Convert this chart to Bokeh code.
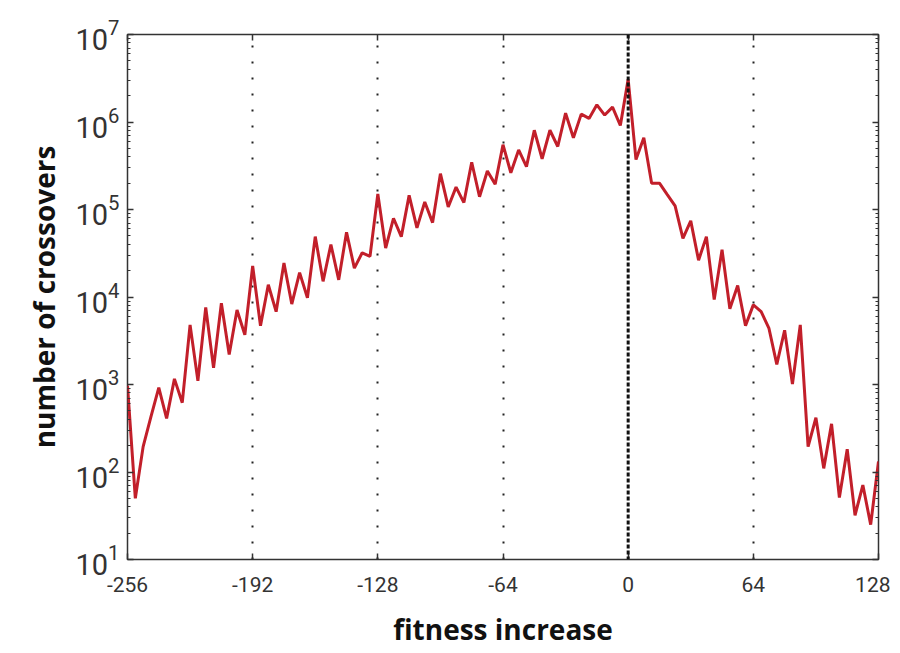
from bokeh.plotting import figure
from bokeh.models import (LogAxis, LinearAxis, FixedTicker, LogTicker, Span, Range1d,
                          CustomJSTickFormatter)
from bokeh.embed import file_html
from bokeh.resources import INLINE

# data
fitness_increase = list(range(-256, 129, 4))
crossovers = [
    970, 50, 195, 430, 920, 410, 1160, 620, 4800, 1100, 7600, 1550, 8500, 2200,
    7100, 3700, 22600, 4700, 13800, 6800, 24500, 8300, 19000, 9800, 49000, 15100,
    39800, 15700, 55000, 21400, 32000, 29200, 151000,
    36300, 79400, 49000, 145000, 61700, 122000, 70800, 257000, 107000, 180000,
    120000, 347000, 140000, 275000, 195000, 550000, 263000, 479000, 309000,
    805000, 380000, 805000, 525000, 1260000, 661000, 1230000, 1100000, 1570000,
    1200000, 1480000, 912000,
    3070000, 372000, 661000, 200000, 200000, 148000, 110000, 46800, 74100, 26300,
    49000, 9330, 34700, 7330, 13500, 4700, 8130, 6800, 4370, 1700, 4170, 1010,
    4800, 195, 417, 110, 355, 51, 182, 32, 71, 25, 132,
]
x_ticks = [-256, -192, -128, -64, 0, 64, 128]
x_tick_labels = ["-256", "-192", "-128", "-64", "0", "64", "128"]
grid_ticks = [-192, -128, -64, 64]

TICK_FONT = "Roboto"
LABEL_FONT = "Open Sans"

p = figure(
    output_backend="svg", toolbar_location=None,
    frame_width=751, frame_height=525,
    min_border_left=127, min_border_right=12, min_border_top=34, min_border_bottom=92,
    y_axis_type="log",
    x_range=Range1d(-256, 128), y_range=Range1d(10, 1e7),
    background_fill_color="white", border_fill_color="white",
)
p.outline_line_color = "#333333"
p.outline_line_width = 1.5

p.xgrid.ticker = FixedTicker(ticks=grid_ticks)
p.xgrid.grid_line_color = "#222222"
p.xgrid.grid_line_dash = "2 14"
p.xgrid.grid_line_width = 2
p.ygrid.grid_line_color = None

xt = FixedTicker(ticks=x_ticks)
yt = LogTicker(num_minor_ticks=10)
blank = CustomJSTickFormatter(code="return '';")

def style_axis(ax):
    ax.axis_line_color = None
    ax.major_tick_in = 6
    ax.major_tick_out = 0
    ax.minor_tick_in = 3
    ax.minor_tick_out = 0
    ax.major_tick_line_color = "#333333"
    ax.minor_tick_line_color = "#333333"
    ax.major_tick_line_width = 1.5
    ax.minor_tick_line_width = 1.2
    ax.major_label_text_font = TICK_FONT
    ax.major_label_text_font_size = "21px"
    ax.major_label_text_color = "#333333"
    ax.axis_label_text_font = LABEL_FONT
    ax.axis_label_text_font_style = "bold"
    ax.axis_label_text_font_size = "28px"
    ax.axis_label_text_color = "#111111"

xa = p.xaxis[0]
ya = p.yaxis[0]
xa.ticker = xt
ya.ticker = yt
style_axis(xa)
style_axis(ya)
xa.major_label_overrides = dict(zip(x_ticks, x_tick_labels))
xa.axis_label = "fitness increase"
ya.axis_label = "number of crossovers"
xa.major_label_standoff = 17
xa.axis_label_standoff = 15
ya.major_label_standoff = 8
ya.axis_label_standoff = 10
ya.major_label_text_font_size = "29px"

top = LinearAxis(ticker=xt, formatter=blank)
style_axis(top)
right = LogAxis(ticker=yt, formatter=blank)
style_axis(right)
p.add_layout(top, "above")
p.add_layout(right, "right")

p.add_layout(Span(location=0, dimension="height", line_color="#111111",
                  line_width=3, line_dash="4 2"))

p.line(fitness_increase, crossovers, line_color="#c21f2a", line_width=3)

open("out.html", "w").write(file_html(p, INLINE))
